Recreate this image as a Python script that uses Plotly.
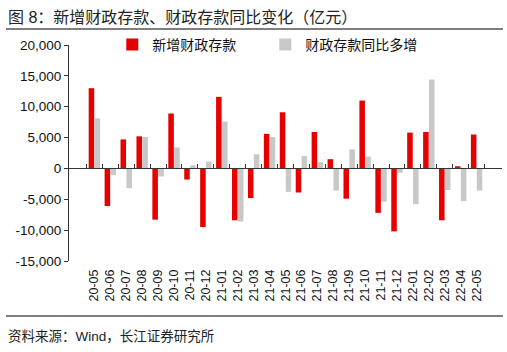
import plotly.graph_objects as go

months = ["20-05","20-06","20-07","20-08","20-09","20-10","20-11","20-12",
          "21-01","21-02","21-03","21-04","21-05","21-06","21-07","21-08",
          "21-09","21-10","21-11","21-12","22-01","22-02","22-03","22-04","22-05"]
new_deposits = [13000,-6100,4700,5200,-8300,8900,-1800,-9500,
                11600,-8400,-4800,5600,9100,-3900,5900,1500,
                -4900,11000,-7200,-10200,5800,5900,-8400,350,5500]
yoy_increase = [8100,-1100,-3200,5100,-1300,3400,500,1100,
                7600,-8600,2300,5100,-3800,2000,1000,-3600,
                3100,1900,-5400,-700,-5800,14400,-3500,-5300,-3600]
ytick_vals = [20000,15000,10000,5000,0,-5000,-10000,-15000]
ytick_text = ["20,000","15,000","10,000","5,000","0","-5,000","-10,000","-15,000"]

FONT = "Liberation Sans, Arial, Noto Sans CJK SC, sans-serif"

fig = go.Figure()
fig.add_trace(go.Bar(x=months, y=new_deposits, name="新增财政存款",
                     marker=dict(color="#E60000", line=dict(width=0))))
fig.add_trace(go.Bar(x=months, y=yoy_increase, name="财政存款同比多增",
                     marker=dict(color="#C8C8C8", line=dict(width=0))))
# invisible trace to carry the zero-line axis with boundary ticks
fig.add_trace(go.Scatter(x=months, y=[None]*len(months), xaxis="x2",
                         showlegend=False, hoverinfo="skip", mode="markers"))

ymin, ymax = -15000, 20000
zero_pos = (0 - ymin) / (ymax - ymin)

fig.update_layout(
    width=507, height=352,
    margin=dict(l=69, r=5, t=45, b=91),
    paper_bgcolor="white", plot_bgcolor="white",
    font=dict(family=FONT, size=13, color="#111"),
    barmode="group", bargap=0.26, bargroupgap=0.06,
    showlegend=True,
    legend=dict(orientation="h", x=0.10, xanchor="left", y=1.0, yanchor="middle",
                font=dict(size=14, color="#111"), bgcolor="rgba(0,0,0,0)",
                entrywidth=108, entrywidthmode="pixels", itemwidth=30),
    xaxis=dict(type="category", showline=False, ticks="", tickangle=-90,
               tickmode="array", tickvals=months, ticktext=months,
               ticklabelstandoff=5,
               tickfont=dict(size=12.5, color="#111"), showgrid=False, zeroline=False),
    xaxis2=dict(type="category", overlaying="x", anchor="free", position=zero_pos,
                side="bottom", showline=True, linecolor="#333", linewidth=1,
                ticks="inside", ticklen=4, tickcolor="#333", tickson="boundaries",
                tickmode="array", tickvals=months,
                showticklabels=False, showgrid=False, zeroline=False,
                matches="x"),
    yaxis=dict(range=[ymin, ymax], tickvals=ytick_vals, ticktext=ytick_text,
               showline=True, linecolor="#333", linewidth=1, ticks="outside",
               ticklen=4, tickcolor="#333", showgrid=False, zeroline=False,
               tickfont=dict(size=13.5, color="#111")),
)

fig.add_annotation(text="图 8：新增财政存款、财政存款同比变化（亿元）",
                   xref="paper", yref="paper", x=-63/433, y=1 + (45-17)/216,
                   xanchor="left", yanchor="middle", showarrow=False,
                   font=dict(size=16, color="#222"))
fig.add_annotation(text="资料来源：Wind，长江证券研究所",
                   xref="paper", yref="paper", x=-63/433, y=-(336-261)/216,
                   xanchor="left", yanchor="middle", showarrow=False,
                   font=dict(size=13.5, color="#222"))
fig.add_shape(type="line", xref="paper", yref="paper",
              x0=-63/433, x1=(503-69)/433, y0=1 + (45-29)/216, y1=1 + (45-29)/216,
              line=dict(color="#555", width=1.5))
fig.add_shape(type="line", xref="paper", yref="paper",
              x0=-63/433, x1=(503-69)/433, y0=-(316-261)/216, y1=-(316-261)/216,
              line=dict(color="#555", width=1.5))

fig.write_html("out.html")
